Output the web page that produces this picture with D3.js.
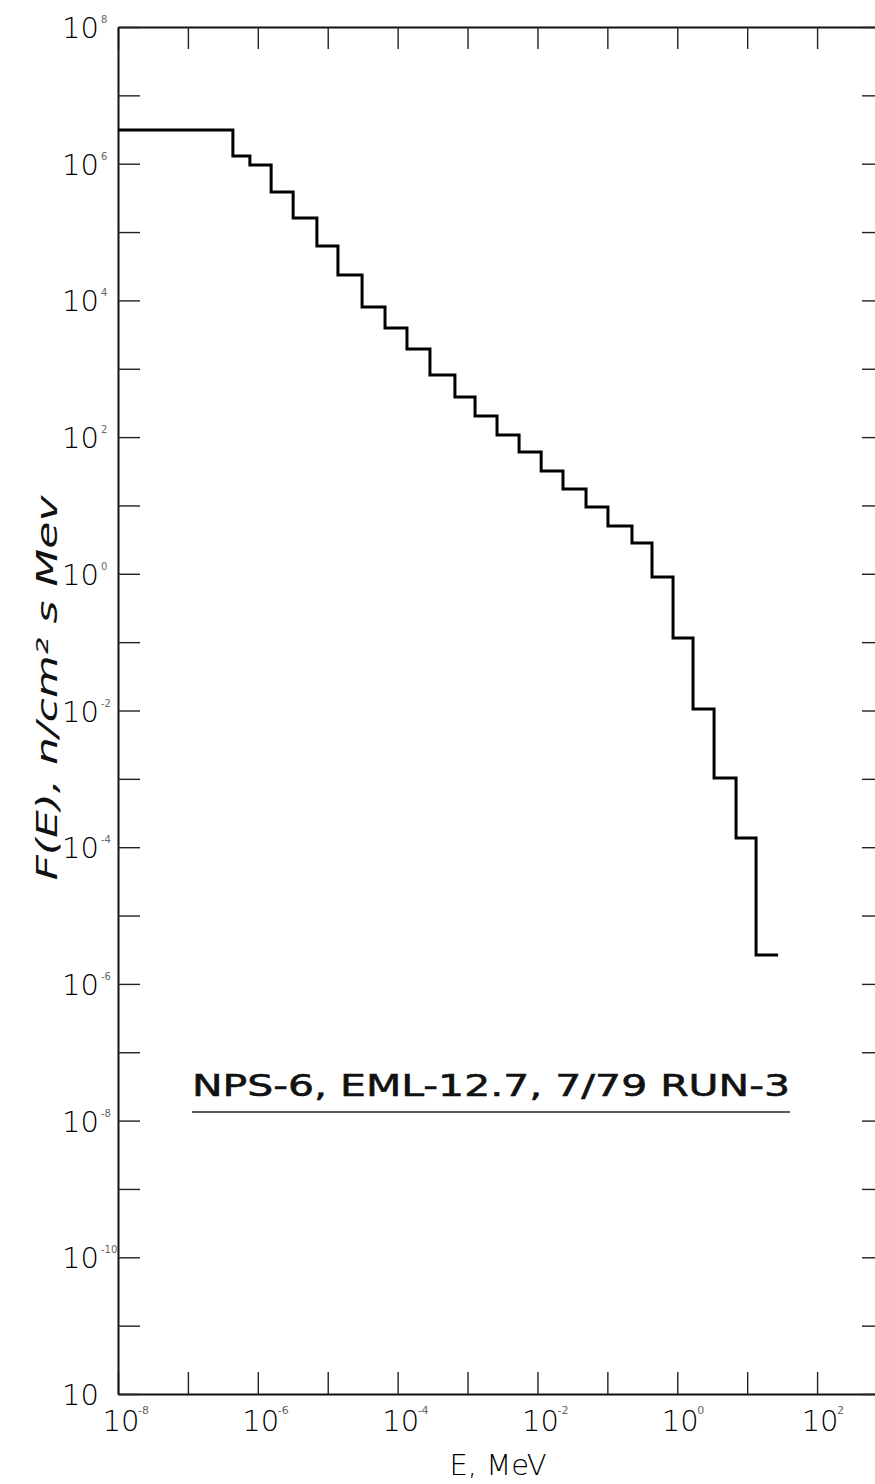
<!DOCTYPE html>
<html>
<head>
<meta charset="utf-8">
<script src="https://cdn.jsdelivr.net/npm/d3@7"></script>
<style>
  body { margin: 0; background: #fff; }
  svg { display: block; }
  text { font-family: "DejaVu Sans", "Liberation Sans", Arial, sans-serif; fill: #111; }
  .thin { font-weight: 200; fill: #000; }
</style>
</head>
<body>
<div id="chart"></div>
<script>
// group edges (MeV) and flux per group
const binEdges = [1e-8, 4.4e-7, 7.7e-7, 1.55e-6, 3.2e-6, 7.0e-6, 1.4e-5, 3.1e-5, 6.6e-5,
  1.36e-4, 2.9e-4, 6.6e-4, 1.28e-3, 2.64e-3, 5.46e-3, 1.13e-2, 2.32e-2, 4.95e-2,
  0.102, 0.225, 0.435, 0.87, 1.68, 3.36, 6.93, 13.4, 27.7];
const flux = [3.1e6, 1.3e6, 9.6e5, 3.85e5, 1.6e5, 6.25e4, 2.35e4, 8.0e3, 3.95e3,
  1.95e3, 811, 386, 204, 107, 60.6, 31.9, 17.4, 9.5, 5.0, 2.82, 0.90, 0.115,
  0.0105, 1.03e-3, 1.36e-4, 2.65e-6];

const xLabelPowers = [-8, -6, -4, -2, 0, 2];
const xLabelSups = ['-8', '-6', '-4', '-2', '0', '2'];
const yLabelPowers = [8, 6, 4, 2, 0, -2, -4, -6, -8, -10, -12];
const yLabelSups = ['8', '6', '4', '2', '0', '-2', '-4', '-6', '-8', '-10', ''];

const note = 'NPS-6, EML-12.7, 7/79 RUN-3';
const xTitle = 'E, MeV';
const yTitle = 'F(E), n/cm\u00B2 s Mev';

const width = 875;
const height = 1484;

const x = d3.scaleLog().domain([1e-8, 1e3]).range([118, 887]);
const y = d3.scaleLog().domain([1e-12, 1e8]).range([1394, 27]);

const svg = d3.select('#chart').append('svg')
  .attr('width', width)
  .attr('height', height);

const xDecades = d3.range(-8, 4).map(k => Math.pow(10, k));
const yDecades = d3.range(-12, 9).map(k => Math.pow(10, k));

const styleAxis = g => {
  g.select('.domain').attr('stroke', '#111').attr('stroke-width', 2);
  g.selectAll('.tick line').attr('stroke', '#222').attr('stroke-width', 1.4);
};

// frame with inward ticks on all four sides
svg.append('g')
  .attr('transform', `translate(0,${y(1e-12)})`)
  .call(d3.axisBottom(x).tickValues(xDecades).tickSize(-22).tickSizeOuter(0).tickFormat(''))
  .call(styleAxis);

svg.append('g')
  .attr('transform', `translate(0,${y(1e8)})`)
  .call(d3.axisTop(x).tickValues(xDecades).tickSize(-22).tickSizeOuter(0).tickFormat(''))
  .call(styleAxis);

svg.append('g')
  .attr('transform', `translate(${x(1e-8)},0)`)
  .call(d3.axisLeft(y).tickValues(yDecades).tickSize(-22).tickSizeOuter(0).tickFormat(''))
  .call(styleAxis);

svg.append('g')
  .attr('transform', `translate(${x(1e3)},0)`)
  .call(d3.axisRight(y).tickValues(yDecades).tickSize(-25).tickSizeOuter(0).tickFormat(''))
  .call(styleAxis);

// x tick labels
const xLab = svg.append('g')
  .selectAll('g')
  .data(xLabelPowers)
  .enter()
  .append('g')
  .attr('transform', p => `translate(${x(Math.pow(10, p))},1431)`);

xLab.append('text')
  .attr('class', 'thin')
  .attr('x', 3)
  .attr('text-anchor', 'middle')
  .attr('font-size', 29)
  .text('10');

xLab.append('text')
  .attr('x', 20)
  .attr('y', -17)
  .attr('font-size', 11)
  .style('fill', '#666')
  .text((p, i) => xLabelSups[i]);

// y tick labels
const yLab = svg.append('g')
  .selectAll('g')
  .data(yLabelPowers)
  .enter()
  .append('g')
  .attr('transform', p => `translate(0,${y(Math.pow(10, p))})`);

yLab.append('text')
  .attr('class', 'thin')
  .attr('x', 99)
  .attr('y', 11)
  .attr('text-anchor', 'end')
  .attr('font-size', 29)
  .text('10');

yLab.append('text')
  .attr('x', 101)
  .attr('y', -4)
  .attr('font-size', 10)
  .style('fill', '#666')
  .text((p, i) => yLabelSups[i]);

// spectrum as a step histogram
const pts = flux.map((v, i) => [binEdges[i], v]);
pts.push([binEdges[binEdges.length - 1], flux[flux.length - 1]]);

const line = d3.line()
  .x(d => x(d[0]))
  .y(d => y(d[1]))
  .curve(d3.curveStepAfter);

svg.append('path')
  .datum(pts)
  .attr('d', line)
  .attr('fill', 'none')
  .attr('stroke', '#000')
  .attr('stroke-width', 3)
  .attr('stroke-linejoin', 'miter');

// axis titles
svg.append('text')
  .attr('class', 'thin')
  .attr('x', 498)
  .attr('y', 1475)
  .attr('text-anchor', 'middle')
  .attr('font-size', 29)
  .text(xTitle);

svg.append('text')
  .attr('transform', 'translate(57,688) rotate(-90)')
  .attr('text-anchor', 'middle')
  .attr('font-size', 28)
  .attr('font-style', 'italic')
  .attr('textLength', 385)
  .attr('lengthAdjust', 'spacingAndGlyphs')
  .text(yTitle);

// run note, underlined
svg.append('text')
  .attr('x', 192)
  .attr('y', 1096)
  .attr('font-size', 31)
  .attr('textLength', 598)
  .attr('lengthAdjust', 'spacingAndGlyphs')
  .style('stroke', '#111')
  .style('stroke-width', 0.6)
  .text(note);

svg.append('line')
  .attr('x1', 192)
  .attr('x2', 790)
  .attr('y1', 1112)
  .attr('y2', 1112)
  .attr('stroke', '#222')
  .attr('stroke-width', 1.5);
</script>
</body>
</html>
